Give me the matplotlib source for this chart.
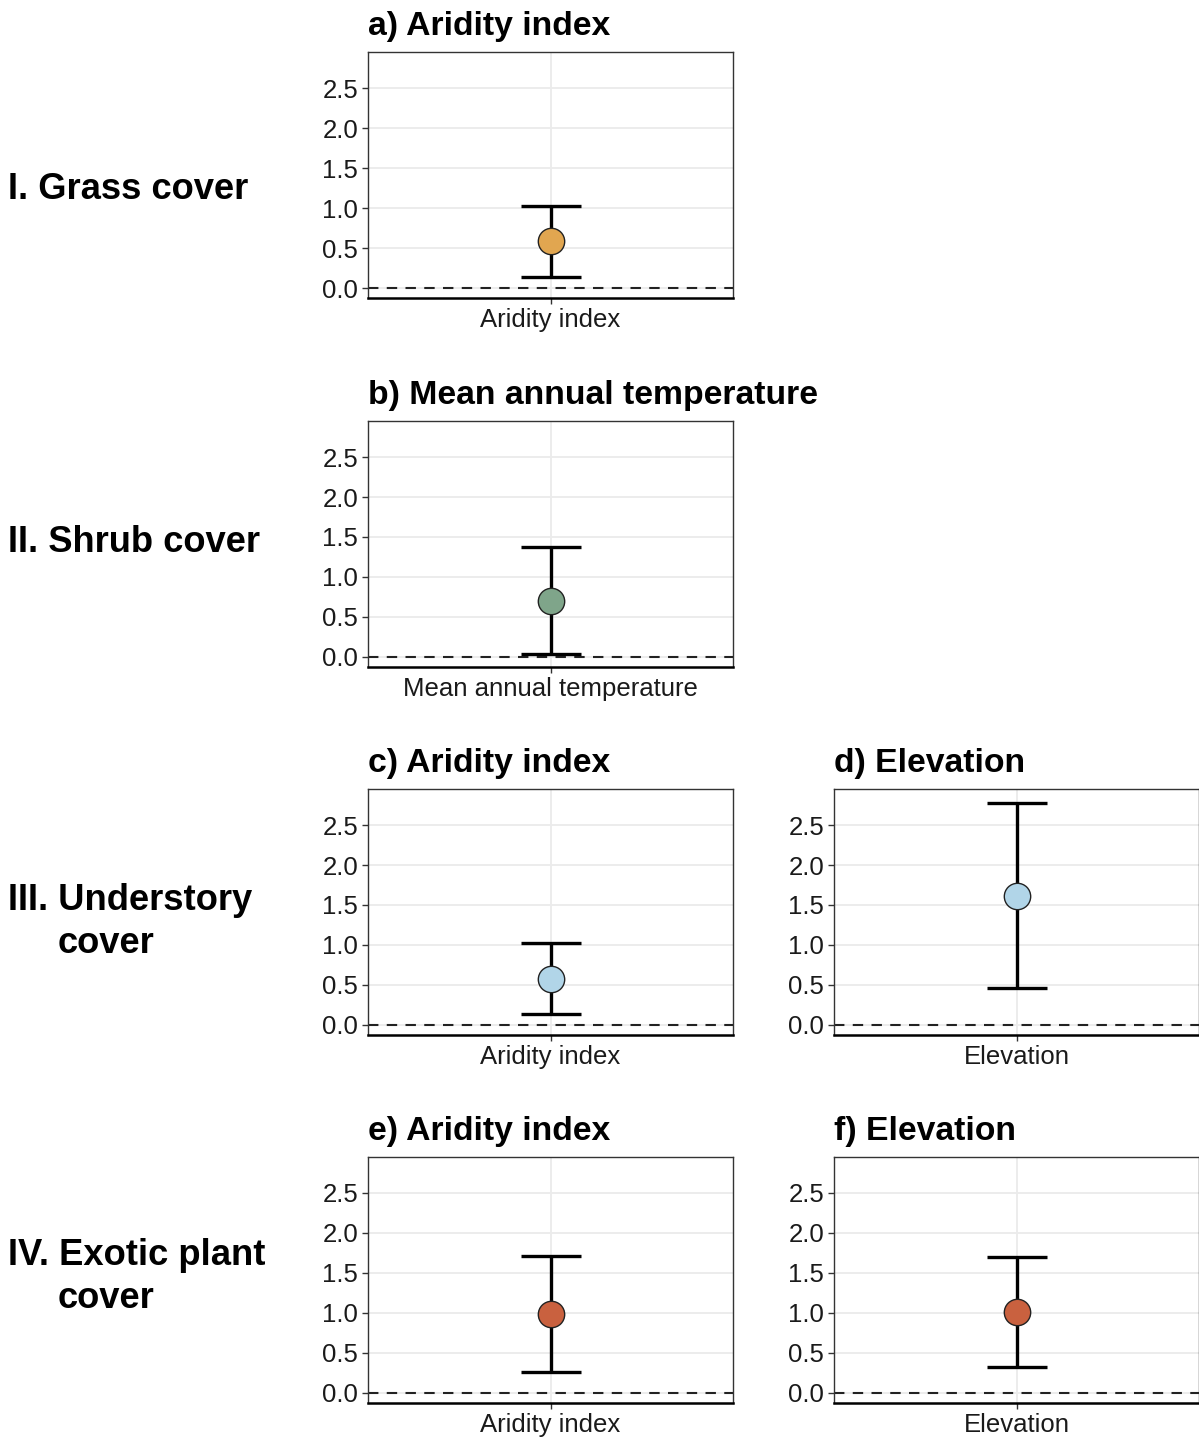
import numpy as np
import matplotlib.pyplot as plt

plt.rcParams['font.family'] = ['Liberation Sans', 'DejaVu Sans']

W, H = 1199, 1437

# Effect estimates with 95% intervals, one panel per predictor
panel_tags = ['a)', 'b)', 'c)', 'd)', 'e)', 'f)']
predictors = ['Aridity index', 'Mean annual temperature', 'Aridity index',
              'Elevation', 'Aridity index', 'Elevation']
estimate = [0.59, 0.70, 0.58, 1.61, 0.99, 1.01]
lower = [0.14, 0.04, 0.14, 0.46, 0.26, 0.33]
upper = [1.03, 1.37, 1.03, 2.77, 1.71, 1.70]
point_colors = ['#E1A650', '#7FA58A', '#B1D5E8', '#B1D5E8', '#C9613F', '#C9613F']

row_labels = ['I. Grass cover', 'II. Shrub cover', 'III. Understory', 'IV. Exotic plant']
row_second_line = [None, None, 'cover', 'cover']

# panel placement in pixels: (left, top) of each axes box
panel_boxes = [(368, 52), (368, 421), (368, 789), (834, 789), (368, 1157), (834, 1157)]
PW, PH = 365, 246

fig = plt.figure(figsize=(W / 100, H / 100), dpi=100)

for i in range(len(predictors)):
    x0, y0 = panel_boxes[i]
    ax = fig.add_axes([x0 / W, 1 - (y0 + PH) / H, PW / W, PH / H])
    ax.set_xlim(0.4, 1.6)
    ax.set_ylim(-0.125, 2.95)
    ax.set_yticks(np.arange(0, 2.51, 0.5))
    ax.set_xticks([1])
    ax.set_xticklabels([predictors[i]])
    ax.grid(True, color='#EBEBEB', lw=1.3, zorder=0)
    ax.set_axisbelow(True)
    ax.axhline(0, color='#222222', lw=1.5, ls=(0, (5, 4)), zorder=1)
    ax.errorbar([1], [estimate[i]],
                yerr=[[estimate[i] - lower[i]], [upper[i] - estimate[i]]],
                fmt='none', ecolor='black', elinewidth=2.4, capsize=21.5,
                capthick=2.4, zorder=2)
    ax.plot([1], [estimate[i]], 'o', ms=19, mfc=point_colors[i], mec='#222222',
            mew=1.0, zorder=3)
    for s in ax.spines.values():
        s.set_color('#333333')
        s.set_linewidth(1.0)
    ax.spines['bottom'].set_color('black')
    ax.spines['bottom'].set_linewidth(1.8)
    ax.tick_params(axis='both', labelsize=18.5, length=4, width=1,
                   color='#333333', labelcolor='#1a1a1a', pad=3)
    ax.text(0, 1 + 17 / PH, f'{panel_tags[i]} {predictors[i]}', transform=ax.transAxes,
            ha='left', va='baseline', fontsize=24.3, fontweight='bold')

# response labels down the left side
row_baselines = [199, 552, 910, 1265]
for r, label in enumerate(row_labels):
    fig.text(8 / W, 1 - row_baselines[r] / H, label, ha='left', va='baseline',
             fontsize=26.2, fontweight='bold')
    if row_second_line[r]:
        fig.text(58 / W, 1 - (row_baselines[r] + 43) / H, row_second_line[r],
                 ha='left', va='baseline', fontsize=26.2, fontweight='bold')

fig.savefig('out.png', dpi=100)
